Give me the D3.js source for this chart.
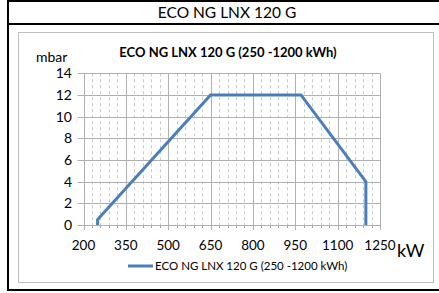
<!DOCTYPE html>
<html><head><meta charset="utf-8">
<script src="https://cdn.jsdelivr.net/npm/d3@7"></script>
<style>body{margin:0;background:#fff;} svg{display:block;}</style>
</head><body>
<svg id="c" width="439" height="293"></svg>
<script>
const pageTitle = "ECO NG LNX 120 G";
const seriesName = "ECO NG LNX 120 G (250 -1200 kWh)";
const powerKW = [250, 250, 650, 970, 1200, 1200];
const pressureMbar = [0, 0.5, 12, 12, 4, 0];
const xTicks = [200, 350, 500, 650, 800, 950, 1100, 1250];
const yTicks = [0, 2, 4, 6, 8, 10, 12, 14];

const svg = d3.select("#c");
svg.style("font-family", 'Lato, "Open Sans", sans-serif');

// outer frame
svg.append("rect").attr("x", 8).attr("y", 1).attr("width", 436).attr("height", 289)
  .attr("fill", "none").attr("stroke", "#000").attr("stroke-width", 2);
svg.append("line").attr("x1", 8).attr("x2", 439).attr("y1", 24).attr("y2", 24)
  .attr("stroke", "#000").attr("stroke-width", 2);
svg.append("text").attr("x", 227).attr("y", 18).attr("text-anchor", "middle")
  .attr("font-size", 15.5).attr("fill", "#000").text(pageTitle);

// chart area border
svg.append("rect").attr("x", 18.5).attr("y", 32.5).attr("width", 415).attr("height", 250)
  .attr("fill", "none").attr("stroke", "#bfbfbf").attr("stroke-width", 1);

const L = 83.5, R = 380, T = 73.3, B = 225;
const x = d3.scaleLinear().domain([200, 1250]).range([L, R]);
const y = d3.scaleLinear().domain([0, 14]).range([B, T]);

// minor dashed verticals
const minor = d3.range(200, 1251, 30).filter(v => (v - 200) % 150 !== 0);
svg.append("g").selectAll("line").data(minor).join("line")
  .attr("x1", d => Math.round(x(d)) + 0.5).attr("x2", d => Math.round(x(d)) + 0.5)
  .attr("y1", T).attr("y2", B)
  .attr("stroke", "#c8c8c8").attr("stroke-width", 1).attr("stroke-dasharray", "3,3");
svg.append("g").selectAll("line").data(minor).join("line")
  .attr("x1", d => Math.round(x(d)) + 0.5).attr("x2", d => Math.round(x(d)) + 0.5)
  .attr("y1", B).attr("y2", B + 3)
  .attr("stroke", "#a6a6a6");

// major gridlines
svg.append("g").selectAll("line").data(yTicks).join("line")
  .attr("x1", L - 6).attr("x2", R)
  .attr("y1", d => Math.round(y(d)) + 0.5).attr("y2", d => Math.round(y(d)) + 0.5)
  .attr("stroke", "#b0b0b0");
svg.append("g").selectAll("line").data(xTicks).join("line")
  .attr("x1", d => Math.round(x(d)) + 0.5).attr("x2", d => Math.round(x(d)) + 0.5)
  .attr("y1", T).attr("y2", B + 5)
  .attr("stroke", "#b0b0b0");

// tick labels
svg.append("g").selectAll("text").data(yTicks).join("text")
  .attr("x", 72).attr("y", d => y(d) + 5).attr("text-anchor", "end")
  .attr("font-size", 14).attr("fill", "#000").text(d => d);
svg.append("g").selectAll("text").data(xTicks).join("text")
  .attr("x", d => x(d)).attr("y", 250).attr("text-anchor", "middle")
  .attr("font-size", 13.5).attr("fill", "#000").text(d => d);

svg.append("text").attr("x", 36).attr("y", 62).attr("font-size", 14).attr("fill", "#000").text("mbar");
svg.append("text").attr("x", 397).attr("y", 257).attr("font-size", 18).attr("fill", "#000").text("kW");
svg.append("text").attr("x", 228).attr("y", 57).attr("text-anchor", "middle")
  .attr("font-size", 13).attr("font-weight", "bold").attr("fill", "#000").text(seriesName);

// series line
const pts = powerKW.map((k, i) => [k, pressureMbar[i]]);
svg.append("path").datum(pts)
  .attr("d", d3.line().x(d => x(d[0])).y(d => y(d[1])))
  .attr("fill", "none").attr("stroke", "#4a7ebb").attr("stroke-width", 3)
  .attr("stroke-linejoin", "miter");

// legend
svg.append("line").attr("x1", 128).attr("x2", 153).attr("y1", 266).attr("y2", 266)
  .attr("stroke", "#4a7ebb").attr("stroke-width", 3);
svg.append("text").attr("x", 155).attr("y", 270).attr("font-size", 11.5).attr("fill", "#000").text(seriesName);
</script>
</body></html>
